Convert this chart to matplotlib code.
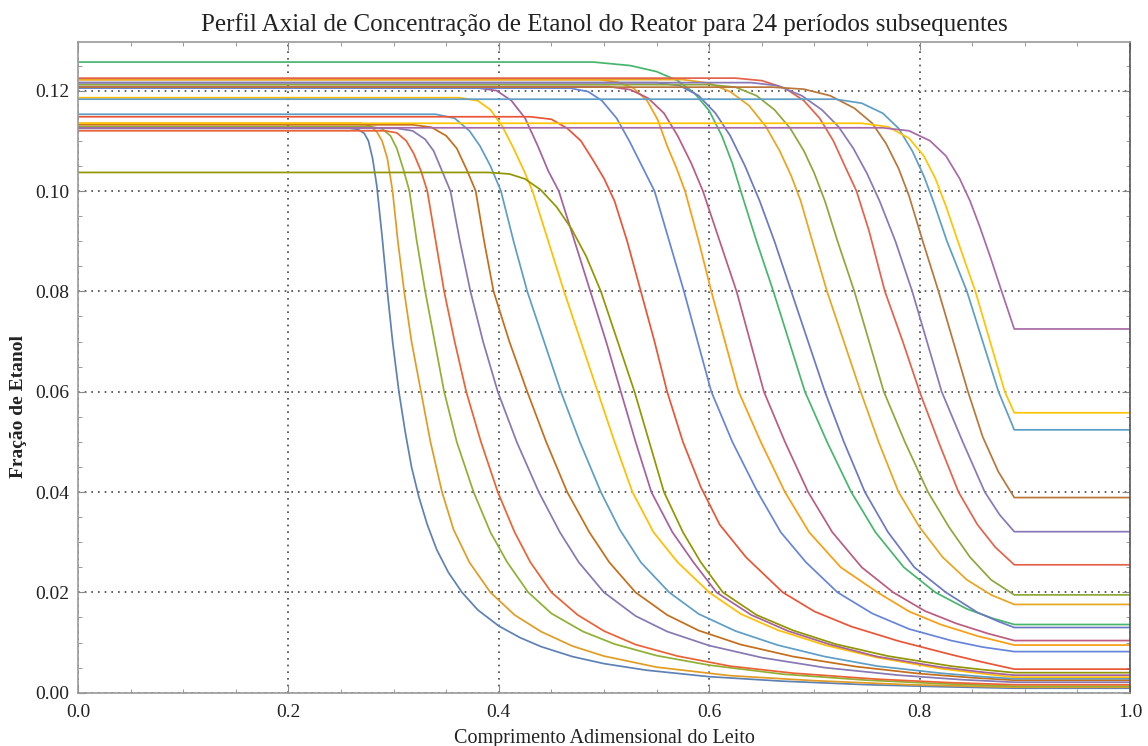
import matplotlib
matplotlib.use("Agg")
import matplotlib.pyplot as plt
from matplotlib.ticker import MultipleLocator

# one (x, y) list per period
x01 = [0, 0.258, 0.266, 0.272, 0.276, 0.280, 0.284, 0.289, 0.294, 0.299, 0.305, 0.311, 0.317, 0.324, 0.332, 0.341, 0.352, 0.365, 0.38, 0.40, 0.42, 0.44, 0.47, 0.50, 0.54, 0.60, 0.67, 0.75, 0.82, 0.89, 1.0]
y01 = [0.1125, 0.1125, 0.1123, 0.1115, 0.110, 0.1065, 0.101, 0.091, 0.080, 0.070, 0.060, 0.052, 0.045, 0.039, 0.0335, 0.0285, 0.024, 0.020, 0.0165, 0.0133, 0.011, 0.0092, 0.0072, 0.0058, 0.0045, 0.0032, 0.0023, 0.0016, 0.0012, 0.0009, 0.0009]
x02 = [0, 0.268, 0.277, 0.284, 0.289, 0.294, 0.299, 0.304, 0.310, 0.317, 0.326, 0.335, 0.346, 0.357, 0.372, 0.392, 0.415, 0.44, 0.47, 0.50, 0.55, 0.62, 0.70, 0.79, 0.89, 1.0]
y02 = [0.1135, 0.1135, 0.1131, 0.1118, 0.110, 0.1065, 0.100, 0.090, 0.080, 0.070, 0.060, 0.050, 0.040, 0.0325, 0.026, 0.020, 0.0155, 0.0122, 0.0093, 0.0073, 0.0051, 0.0034, 0.0024, 0.0016, 0.0011, 0.0011]
x03 = [0, 0.279, 0.289, 0.297, 0.303, 0.309, 0.315, 0.322, 0.330, 0.339, 0.348, 0.360, 0.376, 0.392, 0.408, 0.428, 0.45, 0.48, 0.51, 0.55, 0.60, 0.67, 0.75, 0.82, 0.89, 1.0]
y03 = [0.1128, 0.1128, 0.1124, 0.111, 0.1085, 0.1045, 0.100, 0.090, 0.080, 0.070, 0.060, 0.050, 0.040, 0.032, 0.026, 0.020, 0.0158, 0.0122, 0.0097, 0.0074, 0.0055, 0.0037, 0.0025, 0.0018, 0.0013, 0.0013]
x04 = [0, 0.292, 0.303, 0.312, 0.319, 0.326, 0.332, 0.340, 0.348, 0.358, 0.369, 0.383, 0.399, 0.415, 0.43, 0.45, 0.475, 0.50, 0.53, 0.57, 0.62, 0.68, 0.76, 0.83, 0.89, 1.0]
y04 = [0.1120, 0.1120, 0.1116, 0.110, 0.1075, 0.104, 0.100, 0.090, 0.080, 0.070, 0.060, 0.050, 0.040, 0.032, 0.026, 0.020, 0.0155, 0.0123, 0.0096, 0.0073, 0.0053, 0.0039, 0.0027, 0.0020, 0.0016, 0.0016]
x05 = [0, 0.303, 0.318, 0.330, 0.338, 0.346, 0.354, 0.363, 0.373, 0.385, 0.399, 0.417, 0.438, 0.458, 0.476, 0.50, 0.53, 0.56, 0.60, 0.65, 0.71, 0.78, 0.84, 0.89, 1.0]
y05 = [0.1125, 0.1125, 0.1120, 0.1103, 0.108, 0.104, 0.100, 0.090, 0.080, 0.070, 0.060, 0.050, 0.040, 0.032, 0.026, 0.020, 0.0153, 0.0122, 0.0094, 0.0070, 0.0050, 0.0035, 0.0026, 0.0021, 0.0021]
x06 = [0, 0.318, 0.336, 0.350, 0.360, 0.370, 0.378, 0.386, 0.395, 0.41, 0.427, 0.445, 0.465, 0.486, 0.505, 0.53, 0.56, 0.59, 0.63, 0.68, 0.74, 0.80, 0.85, 0.89, 1.0]
y06 = [0.1132, 0.1132, 0.1127, 0.111, 0.1085, 0.104, 0.100, 0.090, 0.080, 0.070, 0.060, 0.050, 0.040, 0.032, 0.026, 0.020, 0.0155, 0.0124, 0.0096, 0.0072, 0.0052, 0.0038, 0.0030, 0.0025, 0.0025]
x07 = [0, 0.34, 0.358, 0.372, 0.382, 0.392, 0.402, 0.414, 0.427, 0.443, 0.459, 0.477, 0.497, 0.515, 0.535, 0.562, 0.59, 0.625, 0.665, 0.71, 0.76, 0.82, 0.86, 0.89, 1.0]
y07 = [0.1153, 0.1153, 0.1145, 0.112, 0.109, 0.105, 0.100, 0.090, 0.080, 0.070, 0.060, 0.050, 0.040, 0.0325, 0.026, 0.020, 0.0157, 0.0123, 0.0095, 0.0072, 0.0053, 0.0039, 0.0032, 0.0028, 0.0028]
x08 = [0, 0.362, 0.38, 0.392, 0.403, 0.414, 0.424, 0.432, 0.447, 0.462, 0.478, 0.494, 0.51, 0.527, 0.547, 0.57, 0.60, 0.63, 0.665, 0.71, 0.76, 0.82, 0.86, 0.89, 1.0]
y08 = [0.1186, 0.1186, 0.118, 0.1162, 0.113, 0.1085, 0.104, 0.100, 0.090, 0.080, 0.070, 0.060, 0.050, 0.040, 0.032, 0.026, 0.020, 0.0157, 0.0125, 0.0095, 0.0070, 0.0048, 0.0038, 0.0031, 0.0031]
x09 = [0, 0.378, 0.398, 0.412, 0.425, 0.437, 0.447, 0.457, 0.472, 0.487, 0.502, 0.516, 0.530, 0.545, 0.565, 0.585, 0.607, 0.64, 0.675, 0.715, 0.76, 0.82, 0.86, 0.89, 1.0]
y09 = [0.1206, 0.1206, 0.1200, 0.118, 0.1145, 0.109, 0.104, 0.100, 0.090, 0.080, 0.070, 0.060, 0.050, 0.040, 0.032, 0.026, 0.020, 0.0155, 0.0123, 0.0096, 0.0072, 0.0051, 0.0041, 0.0035, 0.0035]
x10 = [0, 0.39, 0.41, 0.425, 0.44, 0.455, 0.469, 0.483, 0.497, 0.513, 0.529, 0.543, 0.557, 0.575, 0.592, 0.613, 0.645, 0.68, 0.72, 0.77, 0.83, 0.86, 0.89, 1.0]
y10 = [0.1037, 0.1037, 0.1034, 0.1024, 0.1002, 0.0968, 0.0925, 0.087, 0.080, 0.070, 0.060, 0.050, 0.040, 0.032, 0.026, 0.020, 0.0155, 0.0124, 0.0097, 0.0073, 0.0053, 0.0046, 0.0040, 0.0040]
x11 = [0, 0.43, 0.45, 0.465, 0.478, 0.49, 0.50, 0.51, 0.522, 0.535, 0.548, 0.56, 0.575, 0.592, 0.61, 0.635, 0.67, 0.70, 0.735, 0.78, 0.83, 0.86, 0.89, 1.0]
y11 = [0.1148, 0.1148, 0.1143, 0.1125, 0.110, 0.106, 0.1025, 0.098, 0.090, 0.080, 0.070, 0.060, 0.050, 0.041, 0.0335, 0.027, 0.020, 0.0162, 0.0132, 0.0103, 0.0076, 0.0061, 0.0047, 0.0047]
x12 = [0, 0.468, 0.485, 0.498, 0.512, 0.524, 0.536, 0.548, 0.562, 0.576, 0.589, 0.602, 0.622, 0.646, 0.668, 0.692, 0.722, 0.755, 0.79, 0.83, 0.86, 0.89, 1.0]
y12 = [0.1205, 0.1205, 0.1198, 0.118, 0.1145, 0.110, 0.105, 0.100, 0.090, 0.080, 0.070, 0.060, 0.050, 0.040, 0.032, 0.026, 0.020, 0.0158, 0.0127, 0.0104, 0.0091, 0.0082, 0.0082]
x13 = [0, 0.495, 0.513, 0.528, 0.541, 0.551, 0.560, 0.569, 0.577, 0.590, 0.602, 0.615, 0.628, 0.649, 0.672, 0.695, 0.725, 0.76, 0.79, 0.82, 0.855, 0.89, 1.0]
y13 = [0.1222, 0.1222, 0.1217, 0.1205, 0.118, 0.1142, 0.109, 0.1045, 0.100, 0.090, 0.080, 0.070, 0.060, 0.050, 0.040, 0.032, 0.025, 0.020, 0.0162, 0.0136, 0.0113, 0.0095, 0.0095]
x14 = [0, 0.505, 0.525, 0.542, 0.557, 0.570, 0.583, 0.594, 0.610, 0.626, 0.639, 0.652, 0.672, 0.694, 0.717, 0.745, 0.775, 0.805, 0.835, 0.865, 0.89, 1.0]
y14 = [0.1208, 0.1208, 0.1202, 0.1185, 0.1155, 0.111, 0.1055, 0.100, 0.090, 0.080, 0.070, 0.060, 0.050, 0.040, 0.032, 0.025, 0.020, 0.0163, 0.0138, 0.0118, 0.0104, 0.0104]
x15 = [0, 0.49, 0.525, 0.55, 0.57, 0.586, 0.600, 0.612, 0.622, 0.630, 0.645, 0.661, 0.676, 0.691, 0.712, 0.735, 0.758, 0.785, 0.815, 0.845, 0.87, 0.89, 1.0]
y15 = [0.1257, 0.1257, 0.1250, 0.1238, 0.122, 0.1195, 0.116, 0.111, 0.1055, 0.100, 0.090, 0.080, 0.070, 0.060, 0.050, 0.040, 0.032, 0.025, 0.020, 0.0167, 0.0148, 0.0136, 0.0136]
x16 = [0, 0.55, 0.572, 0.59, 0.606, 0.62, 0.634, 0.648, 0.662, 0.678, 0.694, 0.710, 0.728, 0.748, 0.77, 0.795, 0.825, 0.855, 0.875, 0.89, 1.0]
y16 = [0.1216, 0.1216, 0.121, 0.119, 0.1155, 0.111, 0.105, 0.098, 0.090, 0.080, 0.070, 0.060, 0.050, 0.040, 0.032, 0.025, 0.020, 0.016, 0.0142, 0.0130, 0.0130]
x17 = [0, 0.575, 0.60, 0.62, 0.638, 0.654, 0.667, 0.678, 0.687, 0.698, 0.712, 0.728, 0.744, 0.761, 0.780, 0.80, 0.822, 0.845, 0.868, 0.89, 1.0]
y17 = [0.1222, 0.1222, 0.1215, 0.1198, 0.117, 0.1128, 0.108, 0.103, 0.098, 0.090, 0.080, 0.070, 0.060, 0.050, 0.040, 0.033, 0.027, 0.0225, 0.0195, 0.0176, 0.0176]
x18 = [0, 0.60, 0.625, 0.645, 0.662, 0.677, 0.69, 0.70, 0.71, 0.722, 0.738, 0.752, 0.766, 0.786, 0.808, 0.828, 0.848, 0.868, 0.89, 1.0]
y18 = [0.1212, 0.1212, 0.1207, 0.119, 0.1162, 0.1125, 0.108, 0.1035, 0.098, 0.090, 0.080, 0.070, 0.060, 0.050, 0.040, 0.033, 0.027, 0.0225, 0.0195, 0.0195]
x19 = [0, 0.625, 0.65, 0.672, 0.69, 0.705, 0.718, 0.730, 0.740, 0.752, 0.767, 0.784, 0.80, 0.818, 0.837, 0.855, 0.872, 0.89, 1.0]
y19 = [0.1225, 0.1225, 0.122, 0.1205, 0.118, 0.1145, 0.110, 0.1045, 0.100, 0.092, 0.080, 0.070, 0.060, 0.050, 0.040, 0.0335, 0.029, 0.0255, 0.0255]
x20 = [0, 0.64, 0.665, 0.688, 0.707, 0.723, 0.737, 0.75, 0.762, 0.777, 0.793, 0.807, 0.821, 0.841, 0.862, 0.876, 0.89, 1.0]
y20 = [0.1216, 0.1216, 0.121, 0.119, 0.1162, 0.1128, 0.1085, 0.1035, 0.098, 0.090, 0.080, 0.070, 0.060, 0.050, 0.040, 0.0355, 0.0321, 0.0321]
x21 = [0, 0.66, 0.69, 0.715, 0.738, 0.755, 0.768, 0.78, 0.79, 0.803, 0.818, 0.832, 0.846, 0.86, 0.875, 0.89, 1.0]
y21 = [0.1207, 0.1207, 0.1203, 0.119, 0.1165, 0.1135, 0.1095, 0.1045, 0.099, 0.090, 0.080, 0.070, 0.060, 0.051, 0.044, 0.0389, 0.0389]
x22 = [0, 0.72, 0.745, 0.765, 0.78, 0.793, 0.804, 0.813, 0.826, 0.845, 0.86, 0.875, 0.89, 1.0]
y22 = [0.1183, 0.1183, 0.1175, 0.1155, 0.1125, 0.108, 0.103, 0.098, 0.090, 0.080, 0.070, 0.060, 0.0524, 0.0524]
x23 = [0, 0.745, 0.77, 0.79, 0.804, 0.815, 0.825, 0.838, 0.853, 0.867, 0.881, 0.89, 1.0]
y23 = [0.1135, 0.1135, 0.1128, 0.1105, 0.107, 0.1025, 0.097, 0.089, 0.080, 0.070, 0.060, 0.0558, 0.0558]
x24 = [0, 0.765, 0.79, 0.81, 0.825, 0.838, 0.848, 0.857, 0.867, 0.878, 0.89, 1.0]
y24 = [0.1126, 0.1126, 0.112, 0.110, 0.107, 0.1025, 0.098, 0.093, 0.087, 0.080, 0.0725, 0.0725]

xs = [x01, x02, x03, x04, x05, x06, x07, x08, x09, x10, x11, x12,
      x13, x14, x15, x16, x17, x18, x19, x20, x21, x22, x23, x24]
ys = [y01, y02, y03, y04, y05, y06, y07, y08, y09, y10, y11, y12,
      y13, y14, y15, y16, y17, y18, y19, y20, y21, y22, y23, y24]

colors = ['#5E81B5', '#E19C24', '#8FB032', '#EB6235', '#8778B3', '#C56E1A',
          '#5D9EC7', '#FFBF00', '#A5609D', '#929600', '#E95536', '#6685D9',
          '#F89F13', '#BC5B80', '#47B66D', '#6B78C4', '#E8A520', '#8DA83A',
          '#E4624B', '#8878B8', '#B8763A', '#5D9EC7', '#FFC400', '#A76AA6']

plt.rcParams['font.family'] = ['Liberation Serif', 'DejaVu Serif']

fig = plt.figure(figsize=(11.48, 7.46), dpi=100)
ax = fig.add_axes([0.068, 0.0714, 0.9163, 0.8723])

for xv, yv, c in zip(xs, ys, colors):
    ax.plot(xv, yv, color=c, lw=1.25, solid_joinstyle='round')

ax.set_xlim(0, 1.0)
ax.set_ylim(0, 0.1297)

ax.xaxis.set_major_locator(MultipleLocator(0.2))
ax.xaxis.set_minor_locator(MultipleLocator(0.05))
ax.yaxis.set_major_locator(MultipleLocator(0.02))
ax.yaxis.set_minor_locator(MultipleLocator(0.005))
ax.set_xticklabels([f'{v:.1f}' for v in ax.get_xticks()])
ax.set_yticklabels([f'{v:.2f}' for v in ax.get_yticks()])

ax.tick_params(which='both', direction='in', top=True, right=True, colors='#888888',
               labelcolor='#222222', labelsize=14)
ax.tick_params(which='major', length=6, width=0.8)
ax.tick_params(which='minor', length=3, width=0.6)
ax.tick_params(axis='x', pad=8)
ax.tick_params(axis='y', pad=6)

for side in ['left', 'bottom', 'top']:
    ax.spines[side].set_color('#999999')
    ax.spines[side].set_linewidth(1.2)
ax.spines['right'].set_color('#555555')
ax.spines['right'].set_linewidth(1.2)

ax.grid(True, which='major', color='#444444', linestyle=(0, (1, 3)), linewidth=1.2)

ax.set_title('Perfil Axial de Concentração de Etanol do Reator para 24 períodos subsequentes',
             fontsize=18, pad=8, color='#222222')
ax.set_xlabel('Comprimento Adimensional do Leito', fontsize=14.5, labelpad=6, color='#222222')
ax.set_ylabel('Fração de Etanol', fontsize=14, fontweight='bold', color='#222222')
ax.yaxis.set_label_coords(-0.049, 0.44)

fig.savefig('out.png', dpi=100)
